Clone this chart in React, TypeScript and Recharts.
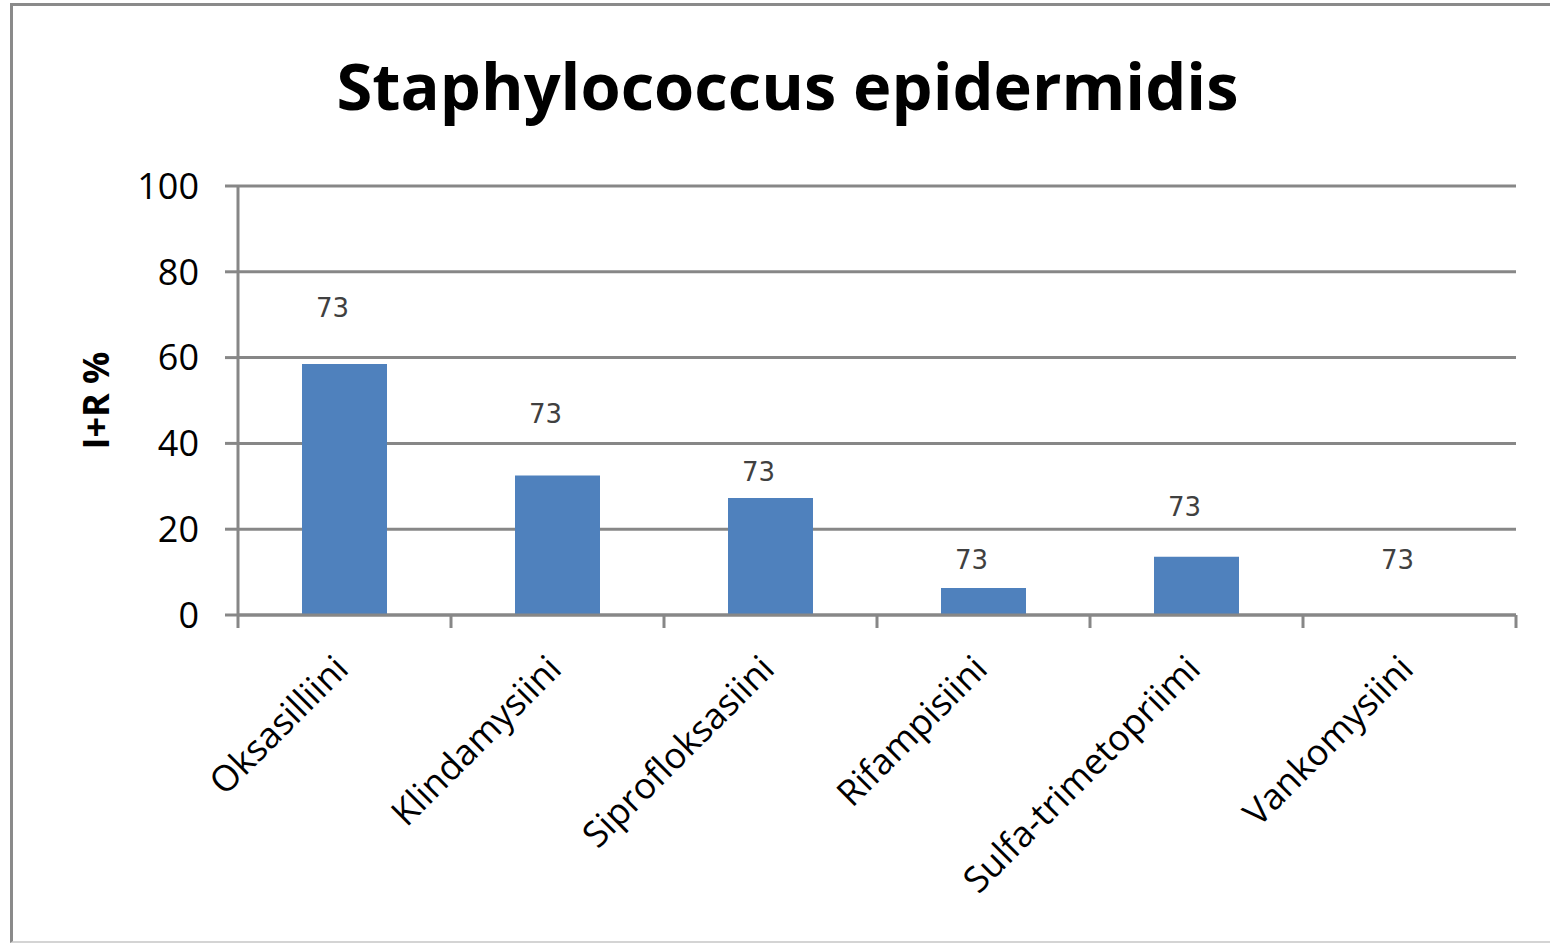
import React from 'react';
import { BarChart, Bar, XAxis, YAxis, CartesianGrid, Line, LabelList } from 'recharts';

const categories = ['Oksasilliini', 'Klindamysiini', 'Siprofloksasiini', 'Rifampisiini', 'Sulfa-trimetopriimi', 'Vankomysiini'];
const irPercent = [58.5, 32.5, 27.3, 6.3, 13.6, 0];
const nValues = [73, 73, 73, 73, 73, 73];
const nLabelLevel = [71.6, 46.9, 33.3, 12.8, 25.2, 12.8];
const yTicks = [0, 20, 40, 60, 80, 100];

const data = categories.map((name, i) => ({
  name,
  ir: irPercent[i],
  n: nValues[i],
  level: nLabelLevel[i],
}));

const GRID = '#878787';
const LABEL_FONT = '"Open Sans", "Liberation Sans", sans-serif';

const CategoryTick = (props: any) => {
  const { x, y, payload, index } = props;
  const off = payload && payload.offset != null ? payload.offset : 0;
  const left = x - off;
  const right = x + off;
  const ax = x + 6;
  const ay = y + 56;
  return (
    <g>
      <line x1={left} y1={y} x2={left} y2={y + 13} stroke={GRID} strokeWidth={3} />
      {index === categories.length - 1 && (
        <line x1={right} y1={y} x2={right} y2={y + 13} stroke={GRID} strokeWidth={3} />
      )}
      <text
        x={ax}
        y={ay}
        transform={`rotate(-45, ${ax}, ${ay})`}
        textAnchor="end"
        fontFamily={LABEL_FONT}
        fontSize={36}
        fill="#000"
      >
        {payload.value}
      </text>
    </g>
  );
};

const NLabel = (props: any) => {
  const { x, y, value } = props;
  return (
    <text
      x={x - 12}
      y={y}
      textAnchor="middle"
      dominantBaseline="central"
      fontFamily='"DejaVu Sans", sans-serif'
      fontSize={26}
      fill="#404040"
    >
      {value}
    </text>
  );
};

const YLabel = (props: any) => {
  const { viewBox } = props;
  const cx = viewBox.x - 43;
  const cy = viewBox.y + viewBox.height / 2;
  return (
    <text
      x={cx}
      y={cy}
      transform={`rotate(-90, ${cx}, ${cy})`}
      textAnchor="middle"
      dominantBaseline="central"
      fontFamily={LABEL_FONT}
      fontWeight="bold"
      fontSize={36}
      fill="#000"
    >
      I+R %
    </text>
  );
};

export default function App() {
  return (
    <div style={{ position: 'absolute', left: 0, top: 0, width: 1550, height: 943, overflow: 'hidden', background: '#fff' }}>
      <div
        style={{
          position: 'absolute',
          left: 10,
          top: 3,
          width: 1580,
          height: 940,
          borderTop: '3px solid #8a8a8a',
          borderLeft: '3px solid #8a8a8a',
          borderBottom: '2px solid #d4d4d4',
          boxSizing: 'border-box',
        }}
      />
      <div
        style={{
          position: 'absolute',
          left: 0,
          top: 40,
          width: 1575,
          textAlign: 'center',
          fontFamily: LABEL_FONT,
          fontWeight: 'bold',
          fontSize: 65,
          lineHeight: '90px',
          color: '#000',
        }}
      >
        Staphylococcus epidermidis
      </div>
      <div style={{ position: 'absolute', left: 0, top: 0 }}>
        <BarChart
          width={1550}
          height={943}
          data={data}
          margin={{ top: 186, right: 34, bottom: 28, left: 138 }}
          barSize={85}
        >
          <CartesianGrid vertical={false} stroke={GRID} strokeWidth={3} />
          <XAxis
            dataKey="name"
            height={300}
            interval={0}
            tickLine={false}
            tickSize={0}
            tickMargin={0}
            axisLine={{ stroke: GRID, strokeWidth: 3 }}
            tick={<CategoryTick />}
          />
          <YAxis
            width={100}
            domain={[0, 100]}
            ticks={yTicks}
            interval={0}
            tickSize={13}
            tickMargin={26}
            tickLine={{ stroke: GRID, strokeWidth: 3 }}
            axisLine={{ stroke: GRID, strokeWidth: 3 }}
            tick={{ fontFamily: LABEL_FONT, fontSize: 36, fill: '#000' }}
            label={<YLabel />}
          />
          <Bar dataKey="ir" fill="#4F81BD" isAnimationActive={false} />
          <Line
            dataKey="level"
            stroke="none"
            dot={false}
            activeDot={false}
            isAnimationActive={false}
          >
            <LabelList dataKey="n" content={<NLabel />} />
          </Line>
        </BarChart>
      </div>
    </div>
  );
}
